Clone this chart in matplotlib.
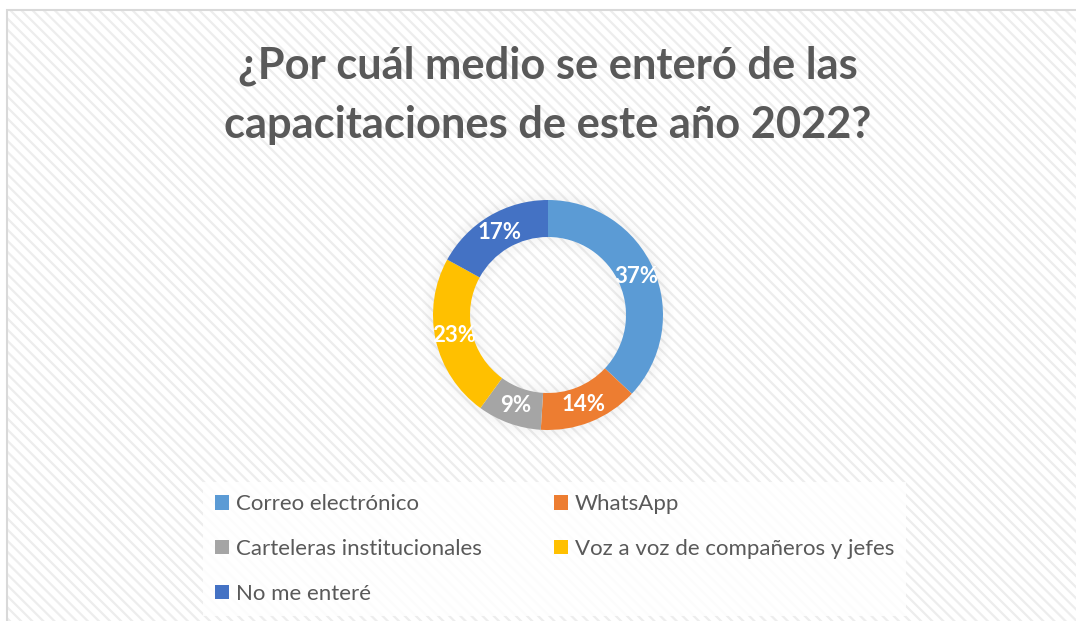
import matplotlib as mpl
import matplotlib.pyplot as plt
from matplotlib.patches import Rectangle, Wedge

# Survey answers, in percent
categories = [
    "Correo electrónico",
    "WhatsApp",
    "Carteleras institucionales",
    "Voz a voz de compañeros y jefes",
    "No me enteré",
]
shares = [37, 14, 9, 23, 17]
colors = ["#5B9BD5", "#ED7D31", "#A5A5A5", "#FFC000", "#4472C4"]
title_lines = [
    "¿Por cuál medio se enteró de las",
    "capacitaciones de este año 2022?",
]

mpl.rcParams["font.family"] = ["Lato", "DejaVu Sans"]
mpl.rcParams["hatch.linewidth"] = 1.6

W, H = 1076, 621
fig = plt.figure(figsize=(W / 100, H / 100), dpi=100, facecolor="white")
ax = fig.add_axes([0, 0, 1, 1])
ax.set(xlim=(0, W), ylim=(0, H), aspect="equal")
ax.axis("off")

# Chart area: light diagonal stripes with a thin grey border
ax.add_patch(
    Rectangle((6, -10), W + 20, H - 9 + 10, facecolor="white",
              edgecolor="#ededed", lw=0, hatch="\\\\\\", zorder=0)
)
ax.add_patch(
    Rectangle((6.5, -10), W + 20, H - 9.5 + 10, facecolor="none",
              edgecolor="#d9d9d9", lw=1.5, zorder=1)
)

cx, cy = 548, H - 315
r_out, r_in = 115, 78

# soft shadow around the ring
for i in range(8):
    ax.add_patch(Wedge((cx, cy), r_out + 1 + i * 1.5, 0, 360, width=1.5,
                       facecolor="black", alpha=0.035 * (1 - i / 8),
                       edgecolor="none", zorder=2))
    ax.add_patch(Wedge((cx, cy), r_in - i * 1.5, 0, 360, width=1.5,
                       facecolor="black", alpha=0.03 * (1 - i / 8),
                       edgecolor="none", zorder=2))

wedges, _, autotexts = ax.pie(
    shares,
    colors=colors,
    center=(cx, cy),
    radius=r_out,
    startangle=90,
    counterclock=False,
    autopct="%.0f%%",
    pctdistance=0.835,
    wedgeprops=dict(width=r_out - r_in, edgecolor="none"),
    textprops=dict(color="white", fontsize=16, fontweight="bold"),
    frame=True,
)
ax.set(xlim=(0, W), ylim=(0, H))
ax.axis("off")
for w in wedges:
    w.set_zorder(3)
for t in autotexts:
    t.set_zorder(4)

for i, line in enumerate(title_lines):
    ax.text(W / 2 + 10, H - 79 - i * 59, line, ha="center", va="baseline",
            fontsize=31.2, fontweight="bold", color="#595959", zorder=5)

# legend filled row by row: reorder for matplotlib's column filling
order = [0, 2, 4, 1, 3]
leg = ax.legend(
    [wedges[i] for i in order],
    [categories[i] for i in order],
    ncol=2,
    loc="upper left",
    bbox_to_anchor=(203 / W, 1 - 482 / H),
    frameon=True,
    fancybox=False,
    fontsize=16,
    handlelength=0.62,
    handleheight=0.62,
    handletextpad=0.3,
    labelspacing=1.12,
    columnspacing=3.27,
    borderpad=0.55,
    borderaxespad=0,
)
leg.get_frame().set_facecolor("white")
leg.get_frame().set_alpha(0.85)
leg.get_frame().set_edgecolor("none")
for t in leg.get_texts():
    t.set_color("#595959")
leg.set_zorder(6)

fig.savefig("out.png", dpi=100)
